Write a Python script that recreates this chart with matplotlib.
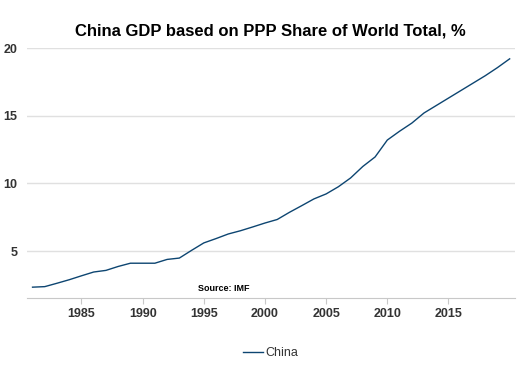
import matplotlib
matplotlib.use("Agg")
import matplotlib.pyplot as plt

# China GDP (PPP) share of world total, %, IMF
years = list(range(1981, 2021))
china_share = [2.33, 2.37, 2.62, 2.88, 3.17, 3.45, 3.57, 3.86, 4.10, 4.10,
               4.10, 4.38, 4.48, 5.05, 5.60, 5.92, 6.26, 6.50, 6.78, 7.07,
               7.33, 7.86, 8.35, 8.85, 9.22, 9.75, 10.40, 11.25, 11.95, 13.20,
               13.85, 14.45, 15.20, 15.75, 16.30, 16.85, 17.40, 17.95, 18.55, 19.20]
xticks = [1985, 1990, 1995, 2000, 2005, 2010, 2015]
yticks = [5, 10, 15, 20]

plt.rcParams['font.family'] = ['Liberation Sans', 'DejaVu Sans']

fig = plt.figure(figsize=(5.3, 3.78), dpi=100)
ax = fig.add_axes([0.051, 0.212, 0.921, 0.661])

ax.plot(years, china_share, color='#0d4571', linewidth=1.0, label='China')

ax.set_xlim(1980.55, 2020.45)
ax.set_ylim(1.54, 20)
ax.set_xticks(xticks)
ax.set_yticks(yticks)
ax.grid(axis='y', color='#e0e0e0', linewidth=1.0)
ax.set_axisbelow(True)

for s in ['top', 'right', 'left']:
    ax.spines[s].set_visible(False)
ax.spines['bottom'].set_color('#c8c8c8')
ax.tick_params(axis='x', length=4, color='#c8c8c8', labelsize=9, labelcolor='#333333', pad=3)
ax.tick_params(axis='y', length=0, labelsize=9, labelcolor='#333333', pad=7)
for lab in ax.get_xticklabels() + ax.get_yticklabels():
    lab.set_fontweight('bold')

fig.text(0.51, 0.918, 'China GDP based on PPP Share of World Total, %',
         ha='center', va='center', fontsize=12, fontweight='bold')
ax.text(1996.6, 2.2, 'Source: IMF', ha='center', va='center',
        fontsize=6.5, fontweight='bold')

fig.legend(loc='center', bbox_to_anchor=(0.51, 0.066), frameon=False,
           fontsize=9, handlelength=1.6, handletextpad=0.2, labelcolor='#333333')

fig.savefig('out.png', dpi=100)
